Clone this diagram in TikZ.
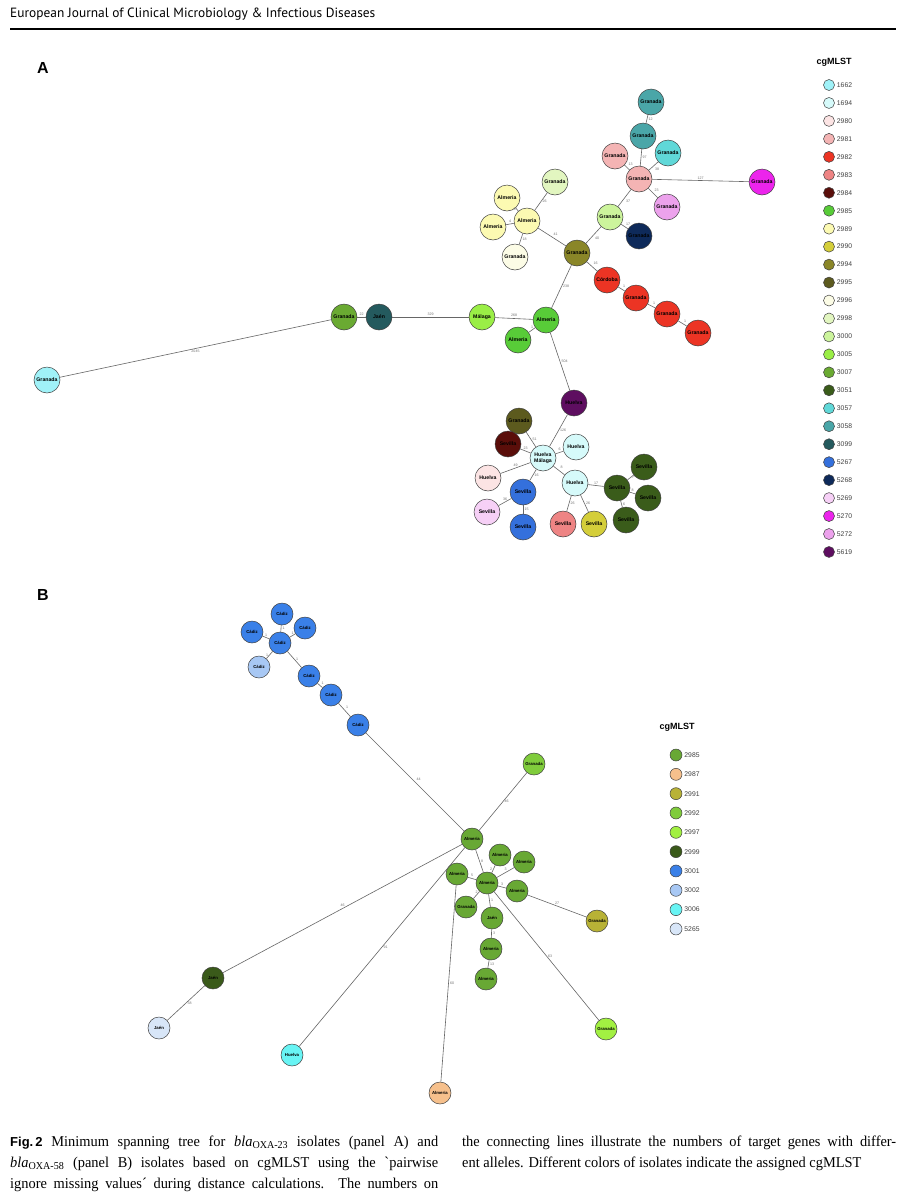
\documentclass[tikz,border=0pt]{standalone}
\usepackage{fontspec}
\setmainfont{Liberation Serif}
\newfontfamily\capfont[FakeStretch=0.96]{Liberation Serif}
\newfontfamily\arial{Liberation Sans}
\newfontfamily\headfont{PT Sans}
\usetikzlibrary{positioning}
% cgMLST colours, panel A
\definecolor{c1662}{HTML}{A0F2F8}
\definecolor{c1694}{HTML}{D6FAFA}
\definecolor{c2980}{HTML}{FCE4E4}
\definecolor{c2981}{HTML}{F4B4B4}
\definecolor{c2982}{HTML}{EC3424}
\definecolor{c2983}{HTML}{EE8484}
\definecolor{c2984}{HTML}{5A0E0A}
\definecolor{c2985}{HTML}{58CC38}
\definecolor{c2989}{HTML}{FCFAB2}
\definecolor{c2990}{HTML}{D4CE3A}
\definecolor{c2994}{HTML}{8A8628}
\definecolor{c2995}{HTML}{5C5A1E}
\definecolor{c2996}{HTML}{FCFCE6}
\definecolor{c2998}{HTML}{E2F6C0}
\definecolor{c3000}{HTML}{CCF49C}
\definecolor{c3005}{HTML}{9AEE46}
\definecolor{c3007}{HTML}{6AAA32}
\definecolor{c3051}{HTML}{3A5C1A}
\definecolor{c3057}{HTML}{60D8D8}
\definecolor{c3058}{HTML}{4AA6A8}
\definecolor{c3099}{HTML}{245A5E}
\definecolor{c5267}{HTML}{3470DC}
\definecolor{c5268}{HTML}{0E2A5A}
\definecolor{c5269}{HTML}{F6D0F6}
\definecolor{c5270}{HTML}{EC24EC}
\definecolor{c5272}{HTML}{ECA2EC}
\definecolor{c5619}{HTML}{5E0E60}
% cgMLST colours, panel B
\definecolor{b2985}{HTML}{68A834}
\definecolor{b2987}{HTML}{F6C08C}
\definecolor{b2991}{HTML}{B8B236}
\definecolor{b2992}{HTML}{80CC3C}
\definecolor{b2997}{HTML}{A2F042}
\definecolor{b2999}{HTML}{3A5A1A}
\definecolor{b3001}{HTML}{3A80E8}
\definecolor{b3002}{HTML}{A8C8F4}
\definecolor{b3006}{HTML}{68F4F4}
\definecolor{b5265}{HTML}{D8E6F8}

\begin{document}
\begin{tikzpicture}[x=1pt,y=-1pt,
  iso/.style={circle,draw=black!75,line width=.5pt,minimum size=26pt,inner sep=0pt,
    font=\arial\bfseries\fontsize{5.2}{5.6}\selectfont,align=center},
  isob/.style={iso,minimum size=22pt,font=\arial\bfseries\fontsize{4.3}{5}\selectfont},
  edge/.style={draw=black!60,line width=.6pt},
  dist/.style={font=\arial\fontsize{3.6}{4}\selectfont,text=black!55,inner sep=1.2pt},
  legdot/.style={circle,draw=black!75,line width=.5pt,minimum size=11pt,inner sep=0pt},
  legtxt/.style={anchor=west,font=\arial\fontsize{6.8}{7}\selectfont,text=black!75,inner sep=0pt},
  captxt/.style={anchor=west,inner sep=0pt,font=\capfont\fontsize{15}{17}\selectfont}]
  \fill[white] (0,0) rectangle (914,1200);
  \useasboundingbox (0,0) rectangle (914,1200);
  % running head
  \node[anchor=west,inner sep=0pt,font=\headfont\fontsize{13.4}{15}\selectfont] (head) at (10,14)
    {European Journal of Clinical Microbiology \& Infectious Diseases};
  \draw[line width=2pt] (10,29) -- (896,29);
  \node[font=\arial\bfseries\fontsize{16}{18}\selectfont] (panelA) at (43,68) {A};
  \node[font=\arial\bfseries\fontsize{16}{18}\selectfont] (panelB) at (43,595) {B};

  %%%%%%%%%%%%%%%%%%%% panel A
  \node[iso,fill=c1662] (gA1) at (47,380) {Granada};
  \node[iso,fill=c3007] (gA2) at (344,317) {Granada};
  \node[iso,fill=c3099] (jA) at (379,317) {Jaén};
  \node[iso,fill=c3005] (mA) at (482,317) {Málaga};
  \node[iso,fill=c2985] (alA) at (546,320) {Almeria};
  \node[iso,fill=c2985] (alA2) at (518,340) {Almeria};
  \node[iso,fill=c2994] (grO) at (577,253) {Granada};
  \node[iso,fill=c2982] (coA) at (607,280) {Córdoba};
  \node[iso,fill=c2982] (grR1) at (636,298) {Granada};
  \node[iso,fill=c2982] (grR2) at (667,314) {Granada};
  \node[iso,fill=c2982] (grR3) at (698,333) {Granada};
  \node[iso,fill=c3000] (grL) at (610,217) {Granada};
  \node[iso,fill=c5268] (grN) at (639,236) {Granada};
  \node[iso,fill=c2981] (grC) at (639,179) {Granada};
  \node[iso,fill=c2981] (grP) at (615,156) {Granada};
  \node[iso,fill=c3058] (grT1) at (643,136) {Granada};
  \node[iso,fill=c3058] (grT2) at (651,102) {Granada};
  \node[iso,fill=c3057] (grQ) at (668,153) {Granada};
  \node[iso,fill=c5270] (grM) at (762,182) {Granada};
  \node[iso,fill=c5272] (grV) at (667,207) {Granada};
  \node[iso,fill=c2989] (alY) at (527,221) {Almeria};
  \node[iso,fill=c2989] (alY2) at (507,198) {Almeria};
  \node[iso,fill=c2989] (alY3) at (493,227) {Almeria};
  \node[iso,fill=c2998] (grG) at (555,182) {Granada};
  \node[iso,fill=c2996] (grW) at (515,257) {Granada};
  \node[iso,fill=c5619] (huP) at (574,403) {Huelva};
  \node[iso,fill=c2995] (grD) at (519,421) {Granada};
  \node[iso,fill=c2984] (seM) at (508,444) {Sevilla};
  \node[iso,fill=c1694] (hm) at (543,458) {Huelva\\Málaga};
  \node[iso,fill=c1694] (hu1) at (576,447) {Huelva};
  \node[iso,fill=c2980] (hu2) at (488,478) {Huelva};
  \node[iso,fill=c5267] (seB) at (523,492) {Sevilla};
  \node[iso,fill=c5269] (seL) at (487,512) {Sevilla};
  \node[iso,fill=c5267] (seB2) at (523,527) {Sevilla};
  \node[iso,fill=c1694] (hu3) at (575,483) {Huelva};
  \node[iso,fill=c2983] (seS) at (563,524) {Sevilla};
  \node[iso,fill=c2990] (seY) at (594,524) {Sevilla};
  \node[iso,fill=c3051] (seG) at (617,488) {Sevilla};
  \node[iso,fill=c3051] (seG1) at (644,467) {Sevilla};
  \node[iso,fill=c3051] (seG2) at (648,498) {Sevilla};
  \node[iso,fill=c3051] (seG3) at (626,520) {Sevilla};
  \foreach \a/\b/\d/\p in {gA1/gA2/2045/below, gA2/jA/22/above, jA/mA/329/above,
      mA/alA/268/above, alA/alA2/1/above, alA/grO/238/right, alA/huP/504/right,
      grO/alY/41/above right, grO/grL/40/below right, grO/coA/16/above right,
      coA/grR1/1/above right, grR1/grR2/1/above right, grR2/grR3/1/above right,
      grL/grC/37/below right, grL/grN/17/above right, grC/grT1/97/right,
      grT1/grT2/12/right, grC/grP/13/above right, grC/grQ/38/below right,
      grC/grM/127/above, grC/grV/23/above right, alY/alY2/6/left, alY/alY3/4/above,
      alY/grG/26/right, alY/grW/18/right, huP/hm/126/right, hm/grD/51/right,
      hm/seM/23/above, hm/hu1/6/above, hm/hu2/49/above, hm/seB/16/right,
      hm/hu3/8/above right, seB/seL/36/above, seB/seB2/15/right, hu3/seS/26/right,
      hu3/seY/26/right, hu3/seG/17/above, seG/seG1/7/right, seG/seG2/8/above,
      seG/seG3/6/right}
    \draw[edge] (\a) -- node[dist,\p] {\d} (\b);
  % legend A
  \node[font=\arial\bfseries\fontsize{9}{10}\selectfont] (legA) at (834,62) {cgMLST};
  \foreach \t [count=\i from 0] in {1662,1694,2980,2981,2982,2983,2984,2985,2989,2990,
      2994,2995,2996,2998,3000,3005,3007,3051,3057,3058,3099,5267,5268,5269,5270,5272,5619}{
    \node[legdot,fill=c\t] (la\t) at (829,85+17.96*\i) {};
    \node[legtxt,right=2pt of la\t] {\t};
  }

  %%%%%%%%%%%%%%%%%%%% panel B
  \node[isob,fill=b3001] (cz0) at (280,643) {Cádiz};
  \node[isob,fill=b3001] (cz1) at (282,614) {Cádiz};
  \node[isob,fill=b3001] (cz2) at (252,632) {Cádiz};
  \node[isob,fill=b3001] (cz3) at (305,628) {Cádiz};
  \node[isob,fill=b3002] (cz4) at (259,667) {Cádiz};
  \node[isob,fill=b3001] (cz5) at (309,676) {Cádiz};
  \node[isob,fill=b3001] (cz6) at (331,695) {Cádiz};
  \node[isob,fill=b3001] (cz7) at (358,725) {Cádiz};
  \node[isob,fill=b2985] (alH) at (472,839) {Almeria};
  \node[isob,fill=b2992] (grB1) at (534,764) {Granada};
  \node[isob,fill=b2985] (alC) at (487,883) {Almeria};
  \node[isob,fill=b2985] (alB1) at (500,855) {Almeria};
  \node[isob,fill=b2985] (alB2) at (524,862) {Almeria};
  \node[isob,fill=b2985] (alB3) at (457,874) {Almeria};
  \node[isob,fill=b2985] (alB4) at (517,891) {Almeria};
  \node[isob,fill=b2985] (grB2) at (466,907) {Granada};
  \node[isob,fill=b2985] (jaB) at (492,918) {Jaén};
  \node[isob,fill=b2985] (alB5) at (491,949) {Almeria};
  \node[isob,fill=b2985] (alB6) at (486,979) {Almeria};
  \node[isob,fill=b2991] (grB3) at (597,921) {Granada};
  \node[isob,fill=b2997] (grB4) at (606,1029) {Granada};
  \node[isob,fill=b2999] (jaB2) at (213,978) {Jaén};
  \node[isob,fill=b5265] (jaB3) at (159,1028) {Jaén};
  \node[isob,fill=b3006] (huB) at (292,1055) {Huelva};
  \node[isob,fill=b2987] (alB7) at (440,1093) {Almeria};
  \foreach \a/\b/\d/\p in {cz0/cz1/1/right, cz0/cz2/1/above, cz0/cz3/1/above,
      cz0/cz4/1/left, cz0/cz5/1/right, cz5/cz6/1/above right, cz6/cz7/1/above right,
      cz7/alH/44/above right, alH/grB1/46/right, alH/alC/8/right, alH/jaB2/46/above,
      alH/huB/91/right, alB3/alB7/60/right, alC/alB1/2/left, alC/alB2/3/above,
      alC/alB3/5/above, alC/alB4/3/above, alC/grB2/2/above, alC/jaB/1/right,
      alC/grB4/63/right, alB4/grB3/27/above, jaB/alB5/3/right, alB5/alB6/13/right,
      jaB2/jaB3/38/right}
    \draw[edge] (\a) -- node[dist,\p] {\d} (\b);
  % legend B
  \node[font=\arial\bfseries\fontsize{9}{10}\selectfont] (legB) at (677,727) {cgMLST};
  \foreach \t [count=\i from 0] in {2985,2987,2991,2992,2997,2999,3001,3002,3006,5265}{
    \node[legdot,minimum size=12pt,fill=b\t] (lb\t) at (676,755+19.33*\i) {};
    \node[legtxt,right=2pt of lb\t] {\t};
  }

  % caption
  \node[captxt] (cap1) at (10,1143) {\makebox[428pt][s]{{\arial\bfseries\fontsize{13}{14}\selectfont Fig.\,2} Minimum spanning tree for \textit{bla}\textsubscript{OXA-23} isolates (panel A) and}};
  \node[captxt] (cap2) at (10,1164) {\makebox[428pt][s]{\textit{bla}\textsubscript{OXA-58} (panel B) isolates based on cgMLST using the \textasciigrave pairwise}};
  \node[captxt] (cap3) at (10,1185) {\makebox[428pt][s]{ignore missing values´ during distance calculations. The numbers on}};
  \node[captxt] (cap4) at (462,1143) {\makebox[434pt][s]{the connecting lines illustrate the numbers of target genes with differ-}};
  \node[captxt] (cap5) at (462,1164) {ent alleles. Different colors of isolates indicate the assigned cgMLST};
\end{tikzpicture}
\end{document}
